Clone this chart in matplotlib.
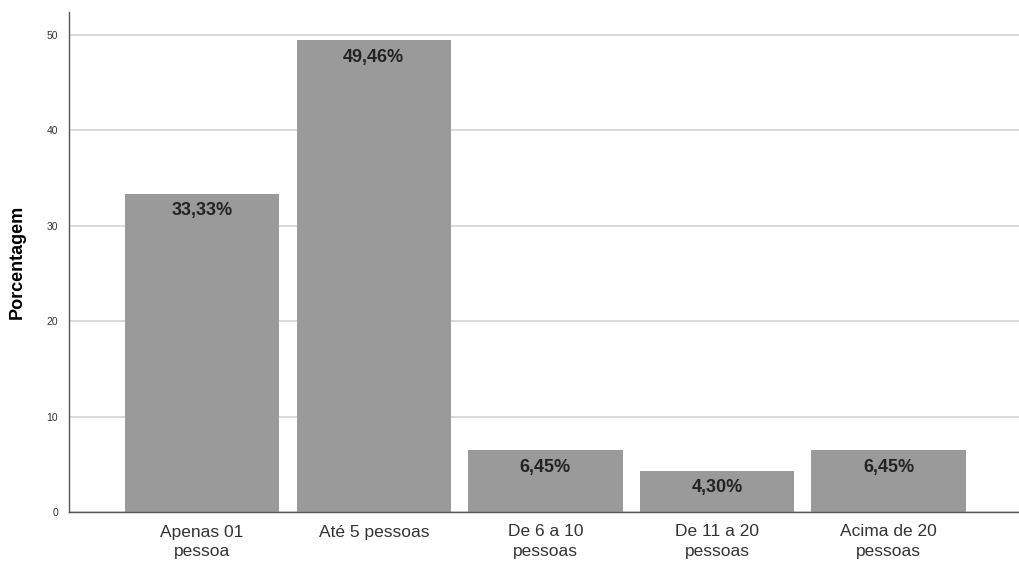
import matplotlib.pyplot as plt

categorias = ["Apenas 01\npessoa", "Até 5 pessoas", "De 6 a 10\npessoas",
              "De 11 a 20\npessoas", "Acima de 20\npessoas"]
porcentagens = [33.33, 49.46, 6.45, 4.30, 6.45]
yticks = [0, 10, 20, 30, 40, 50]

plt.rcParams['font.family'] = ['Liberation Sans', 'DejaVu Sans']

fig = plt.figure(figsize=(10.19, 5.66), dpi=100)
ax = fig.add_axes([69 / 1019, 54 / 566, 950 / 1019, 500 / 566])

x = range(len(categorias))
ax.bar(x, porcentagens, width=0.9, color="#9a9a9a", zorder=2)

# rótulo de valor dentro do topo de cada barra
for xi, v in zip(x, porcentagens):
    txt = f"{v:.2f}".replace(".", ",") + "%"
    ax.annotate(txt, (xi, v), xytext=(0, -17), textcoords="offset pixels",
                ha="center", va="center", fontsize=13, fontweight="bold",
                color="#222222", zorder=3)

ax.set_xlim(-0.776, 4.76)
ax.set_ylim(0, 52.4)
ax.set_yticks(yticks)
ax.set_yticklabels([str(t) for t in yticks], fontsize=7.5, color="#333333")
ax.set_xticks(list(x))
ax.set_xticklabels(categorias, fontsize=12.5, color="#333333", linespacing=1.4)
ax.tick_params(axis="both", length=0, pad=8)
ax.tick_params(axis="x", pad=9)

ax.yaxis.grid(True, color="#d4d4d4", linewidth=1.2, zorder=0)
ax.set_axisbelow(True)
for s in ["top", "right"]:
    ax.spines[s].set_visible(False)
for s in ["left", "bottom"]:
    ax.spines[s].set_color("#555555")
    ax.spines[s].set_linewidth(1.0)

ax.set_ylabel("Porcentagem", fontsize=13, fontweight="bold")
ax.yaxis.set_label_coords(-0.045, 0.5)

fig.savefig("out.png", dpi=100)
